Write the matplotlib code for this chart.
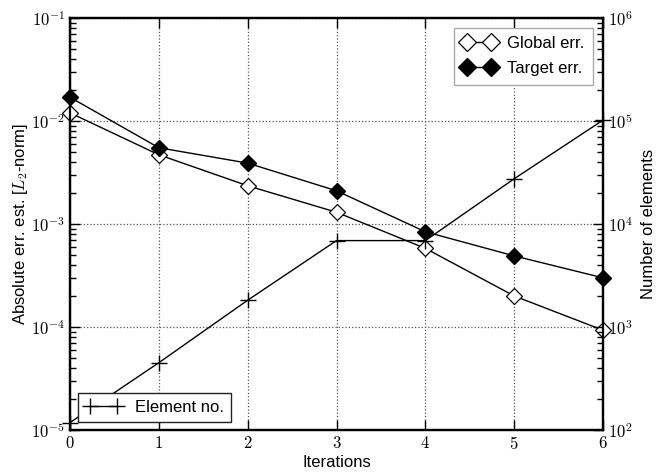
import numpy as np
import matplotlib.pyplot as plt
from matplotlib.ticker import FuncFormatter, FixedLocator, LogLocator

plt.rcParams['mathtext.fontset'] = 'cm'
plt.rcParams['font.family'] = ['Liberation Sans', 'DejaVu Sans']

# Refinement history
iterations = [0, 1, 2, 3, 4, 5, 6]
global_err = [1.2e-2, 4.7e-3, 2.35e-3, 1.3e-3, 5.8e-4, 2.0e-4, 9.3e-5]
target_err = [1.7e-2, 5.5e-3, 3.9e-3, 2.1e-3, 8.4e-4, 4.9e-4, 3.0e-4]
element_no = [118, 450, 1820, 6900, 6900, 27500, 1.02e5]

fig = plt.figure(figsize=(6.62, 4.73), dpi=100)
ax = fig.add_axes([0.1057, 0.0909, 0.8053, 0.8711])
ax2 = ax.twinx()

l1, = ax.plot(iterations, global_err, '-', color='black', lw=1.0, marker='D',
              markersize=8, markerfacecolor='white', markeredgecolor='black',
              markeredgewidth=0.9, clip_on=False, zorder=3)
l2, = ax.plot(iterations, target_err, '-', color='black', lw=1.0, marker='D',
              markersize=8, markerfacecolor='black', markeredgecolor='black',
              clip_on=False, zorder=3)
l3, = ax2.plot(iterations, element_no, '-', color='black', lw=1.0, marker='+',
               markersize=12, markeredgewidth=1.0, clip_on=False)

ax.set_yscale('log')
ax2.set_yscale('log')
ax.set_xlim(0, 6)
ax.set_ylim(1e-5, 1e-1)
ax2.set_ylim(1e2, 1e6)

math_log = FuncFormatter(lambda v, p: r'$10^{%d}$' % round(np.log10(v)))
ax.yaxis.set_major_formatter(math_log)
ax2.yaxis.set_major_formatter(math_log)
ax.xaxis.set_major_locator(FixedLocator(iterations))
ax.xaxis.set_major_formatter(FuncFormatter(lambda v, p: r'$%d$' % v))
ax.yaxis.set_minor_locator(LogLocator(base=10, subs=np.arange(2, 10), numticks=20))
ax2.yaxis.set_minor_locator(LogLocator(base=10, subs=np.arange(2, 10), numticks=20))

ax.tick_params(which='both', direction='in', top=True, labelsize=12, pad=3.5)
ax.tick_params(which='major', length=7, width=1)
ax.tick_params(which='minor', length=4, width=1)
ax2.tick_params(which='both', direction='in', labelsize=12, pad=3.5)
ax2.tick_params(which='major', length=7, width=1)
ax2.tick_params(which='minor', length=4, width=1)

for a in (ax, ax2):
    for s in a.spines.values():
        s.set_linewidth(1.6)

ax.grid(True, which='major', linestyle=':', color='#555555', lw=0.9)

ax.set_xlabel('Iterations', fontsize=12, labelpad=2)
ax.set_ylabel(r'Absolute err. est. [$L_2$-norm]', fontsize=12, labelpad=0.5)
ax2.set_ylabel('Number of elements', fontsize=12, labelpad=6)

leg1 = ax2.legend([l1, l2], ['Global err.', 'Target err.'], loc='upper right',
                  numpoints=2, fancybox=False, fontsize=12, handlelength=2.0,
                  borderaxespad=0.6, borderpad=0.5, handletextpad=0.7,
                  labelspacing=0.6, markerscale=1.1, framealpha=1,
                  edgecolor='#aaaaaa')
ax2.add_artist(leg1)
ax2.legend([l3], ['Element no.'], loc='lower left', numpoints=2, fancybox=False,
           fontsize=12, handlelength=2.2, borderaxespad=0.5, handletextpad=0.8,
           framealpha=1, edgecolor='#222222')

fig.savefig('out.png', dpi=100)
